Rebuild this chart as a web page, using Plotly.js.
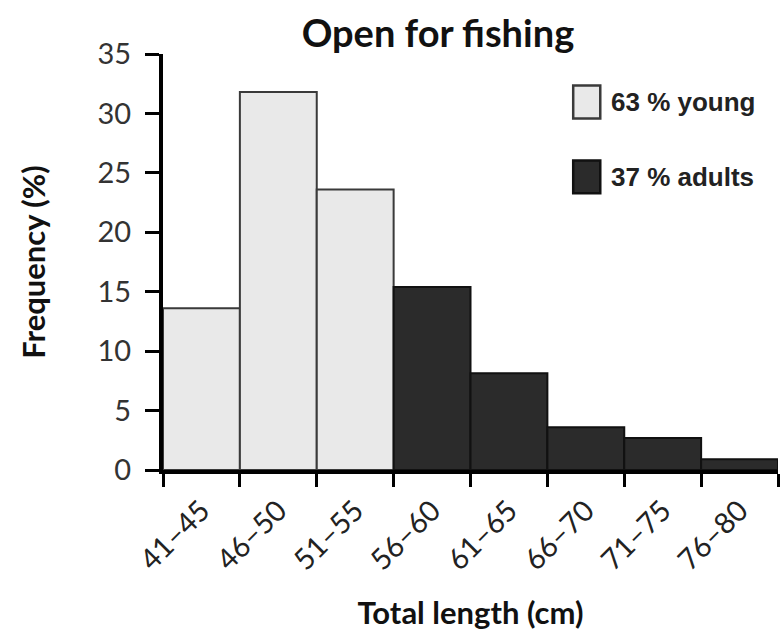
<!DOCTYPE html>
<html>
<head>
<meta charset="utf-8">
<script src="https://cdn.plot.ly/plotly-3.0.1.min.js"></script>
<style>html,body{margin:0;padding:0;background:#fff;}#chart{width:782px;height:635px;}</style>
</head>
<body>
<div id="chart"></div>
<script>
const categories = ["41–45","46–50","51–55","56–60","61–65","66–70","71–75","76–80"];
const youngValues = [13.6, 31.8, 23.6, null, null, null, null, null];
const adultValues = [null, null, null, 15.4, 8.15, 3.6, 2.7, 0.9];
const seriesNames = ["63 % young", "37 % adults"];
const seriesColors = ["#e9e9e9", "#2b2b2b"];
const seriesLines = ["#3a3a3a", "#111111"];

const traces = [
  {type:"bar", x:categories, y:youngValues, name:seriesNames[0],
   marker:{color:seriesColors[0], line:{color:seriesLines[0], width:2}}},
  {type:"bar", x:categories, y:adultValues, name:seriesNames[1],
   marker:{color:seriesColors[1], line:{color:seriesLines[1], width:2}}}
];

// custom legend (large swatches like the reference)
const legendShapes = [];
const legendAnnots = [];
const legY = [[0.924, 0.845], [0.744, 0.665]];
seriesNames.forEach((n, i) => {
  legendShapes.push({type:"rect", xref:"paper", yref:"paper", x0:0.667, x1:0.711,
    y0:legY[i][1], y1:legY[i][0], fillcolor:seriesColors[i],
    line:{color:seriesLines[i], width:2.5}});
  legendAnnots.push({xref:"paper", yref:"paper", x:0.725, y:(legY[i][0]+legY[i][1])/2,
    xanchor:"left", yanchor:"middle", showarrow:false, text:"<b>"+n+"</b>",
    font:{family:"Liberation Sans, Arial, sans-serif", size:26, color:"#222"}});
});

const layout = {
  width:782, height:635,
  margin:{l:163, r:4, t:54, b:165},
  paper_bgcolor:"#fff", plot_bgcolor:"#fff",
  barmode:"overlay", bargap:0, showlegend:false,
  title:{text:"<b>Open for fishing</b>", x:0.56, xanchor:"center", y:0.947, yanchor:"middle",
         font:{family:"Lato, sans-serif", size:38, color:"#111"}},
  xaxis:{type:"category", range:[-0.5,7.5], showline:true, linecolor:"#000", linewidth:4,
         ticks:"outside", tickson:"boundaries", ticklen:13, tickwidth:3, tickcolor:"#000",
         tickangle:-45, tickfont:{family:"Lato, sans-serif", size:29, color:"#222"},
         ticklabelstandoff:8,
         showgrid:false, zeroline:false,
         title:{text:"<b>Total length (cm)</b>", font:{family:"Lato, sans-serif", size:31, color:"#111"}, standoff:28}},
  yaxis:{range:[0,35], dtick:5, showline:true, linecolor:"#000", linewidth:4,
         ticks:"outside", ticklen:14, tickwidth:3, tickcolor:"#000",
         tickfont:{family:"Lato, sans-serif", size:29, color:"#333"},
         ticklabelstandoff:8,
         showgrid:false, zeroline:false,
         title:{text:"<b>Frequency (%)</b>", font:{family:"Lato, sans-serif", size:31, color:"#111"}, standoff:44}},
  shapes:legendShapes,
  annotations:legendAnnots
};

Plotly.newPlot("chart", traces, layout, {staticPlot:true});
</script>
</body>
</html>
